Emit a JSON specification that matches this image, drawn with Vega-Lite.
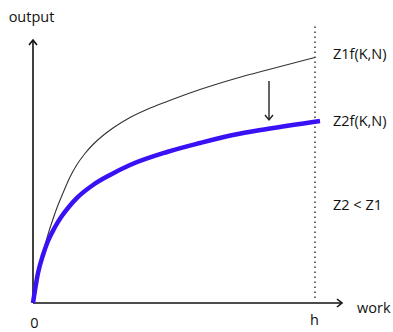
{
  "$schema": "https://vega.github.io/schema/vega-lite/v6.json",
  "width": 393,
  "height": 332,
  "autosize": {"type": "none"},
  "padding": 0,
  "background": "white",
  "view": {"stroke": null},
  "config": {"text": {"font": "Open Sans", "fontSize": 14.5, "color": "#111"}},
  "datasets": {
    "curves": [
      {"series": "Z1f(K,N)", "work": 0, "output": 0},
      {"series": "Z1f(K,N)", "work": 5, "output": 30},
      {"series": "Z1f(K,N)", "work": 10, "output": 50},
      {"series": "Z1f(K,N)", "work": 15, "output": 68.5},
      {"series": "Z1f(K,N)", "work": 20, "output": 84},
      {"series": "Z1f(K,N)", "work": 25, "output": 98},
      {"series": "Z1f(K,N)", "work": 30, "output": 110},
      {"series": "Z1f(K,N)", "work": 37, "output": 126},
      {"series": "Z1f(K,N)", "work": 44, "output": 138.5},
      {"series": "Z1f(K,N)", "work": 52, "output": 149.5},
      {"series": "Z1f(K,N)", "work": 60, "output": 158.5},
      {"series": "Z1f(K,N)", "work": 70, "output": 167.5},
      {"series": "Z1f(K,N)", "work": 80, "output": 175},
      {"series": "Z1f(K,N)", "work": 97, "output": 185.5},
      {"series": "Z1f(K,N)", "work": 115, "output": 194},
      {"series": "Z1f(K,N)", "work": 134, "output": 201.5},
      {"series": "Z1f(K,N)", "work": 150, "output": 207.5},
      {"series": "Z1f(K,N)", "work": 167, "output": 213.5},
      {"series": "Z1f(K,N)", "work": 185, "output": 219.3},
      {"series": "Z1f(K,N)", "work": 200, "output": 223.8},
      {"series": "Z1f(K,N)", "work": 220, "output": 229.3},
      {"series": "Z1f(K,N)", "work": 234, "output": 233},
      {"series": "Z1f(K,N)", "work": 255, "output": 238.5},
      {"series": "Z1f(K,N)", "work": 282, "output": 245.5},
      {"series": "Z2f(K,N)", "work": 0, "output": 0},
      {"series": "Z2f(K,N)", "work": 5, "output": 30},
      {"series": "Z2f(K,N)", "work": 10, "output": 48},
      {"series": "Z2f(K,N)", "work": 15, "output": 62},
      {"series": "Z2f(K,N)", "work": 22, "output": 76},
      {"series": "Z2f(K,N)", "work": 29, "output": 87.2},
      {"series": "Z2f(K,N)", "work": 36, "output": 96.3},
      {"series": "Z2f(K,N)", "work": 44, "output": 105.1},
      {"series": "Z2f(K,N)", "work": 60, "output": 118},
      {"series": "Z2f(K,N)", "work": 77, "output": 128},
      {"series": "Z2f(K,N)", "work": 97, "output": 138},
      {"series": "Z2f(K,N)", "work": 134, "output": 151},
      {"series": "Z2f(K,N)", "work": 167, "output": 160},
      {"series": "Z2f(K,N)", "work": 200, "output": 168},
      {"series": "Z2f(K,N)", "work": 234, "output": 174},
      {"series": "Z2f(K,N)", "work": 287, "output": 182}
    ],
    "axes": [
      {"axis": "work", "x": 0, "y": 0, "x2": 308, "y2": 0},
      {"axis": "output", "x": 0, "y": 0, "x2": 0, "y2": 262}
    ],
    "heads": [
      {"dir": "up", "x": 0, "y": 263},
      {"dir": "right", "x": 309, "y": 0},
      {"dir": "down", "x": 236, "y": 183}
    ],
    "shift": [{"x": 236, "y": 222, "y2": 184}],
    "limit": [{"x": 282, "y": 5, "y2": 280}],
    "labelsLeft": [
      {"text": "Z1f(K,N)", "x": 300, "y": 244},
      {"text": "Z2f(K,N)", "x": 300, "y": 177},
      {"text": "Z2 < Z1", "x": 300, "y": 93},
      {"text": "work", "x": 324, "y": -10}
    ],
    "labelsCenter": [
      {"text": "output", "x": -1.5, "y": 281.5},
      {"text": "0", "x": 1.5, "y": -25},
      {"text": "h", "x": 281.5, "y": -22}
    ]
  },
  "layer": [
    {
      "data": {"name": "limit"},
      "mark": {"type": "rule", "color": "#444", "strokeWidth": 1.6, "strokeDash": [1.5, 3.5]},
      "encoding": {
        "x": {"field": "x", "type": "quantitative", "scale": {"domain": [-33, 360], "nice": false, "zero": false}, "axis": null},
        "y": {"field": "y", "type": "quantitative", "scale": {"domain": [-29, 303], "nice": false, "zero": false}, "axis": null},
        "y2": {"field": "y2"}
      }
    },
    {
      "data": {"name": "axes"},
      "mark": {"type": "rule", "color": "#111", "strokeWidth": 1.6},
      "encoding": {
        "x": {"field": "x", "type": "quantitative", "scale": {"domain": [-33, 360], "nice": false, "zero": false}, "axis": null},
        "y": {"field": "y", "type": "quantitative", "scale": {"domain": [-29, 303], "nice": false, "zero": false}, "axis": null},
        "x2": {"field": "x2"},
        "y2": {"field": "y2"}
      }
    },
    {
      "data": {"name": "shift"},
      "mark": {"type": "rule", "color": "#222", "strokeWidth": 1.4},
      "encoding": {
        "x": {"field": "x", "type": "quantitative", "scale": {"domain": [-33, 360], "nice": false, "zero": false}, "axis": null},
        "y": {"field": "y", "type": "quantitative", "scale": {"domain": [-29, 303], "nice": false, "zero": false}, "axis": null},
        "y2": {"field": "y2"}
      }
    },
    {
      "data": {"name": "heads"},
      "transform": [{"filter": "datum.dir === 'up'"}],
      "mark": {"type": "point", "shape": "M -0.8 1 L 0 0 L 0.8 1", "filled": false, "stroke": "#111", "strokeWidth": 1.6, "size": 100, "opacity": 1},
      "encoding": {
        "x": {"field": "x", "type": "quantitative", "scale": {"domain": [-33, 360], "nice": false, "zero": false}, "axis": null},
        "y": {"field": "y", "type": "quantitative", "scale": {"domain": [-29, 303], "nice": false, "zero": false}, "axis": null}
      }
    },
    {
      "data": {"name": "heads"},
      "transform": [{"filter": "datum.dir === 'right'"}],
      "mark": {"type": "point", "shape": "M -0.8 1 L 0 0 L 0.8 1", "angle": 90, "filled": false, "stroke": "#111", "strokeWidth": 1.6, "size": 100, "opacity": 1},
      "encoding": {
        "x": {"field": "x", "type": "quantitative", "scale": {"domain": [-33, 360], "nice": false, "zero": false}, "axis": null},
        "y": {"field": "y", "type": "quantitative", "scale": {"domain": [-29, 303], "nice": false, "zero": false}, "axis": null}
      }
    },
    {
      "data": {"name": "heads"},
      "transform": [{"filter": "datum.dir === 'down'"}],
      "mark": {"type": "point", "shape": "M -0.8 1 L 0 0 L 0.8 1", "angle": 180, "filled": false, "stroke": "#222", "strokeWidth": 1.4, "size": 100, "opacity": 1},
      "encoding": {
        "x": {"field": "x", "type": "quantitative", "scale": {"domain": [-33, 360], "nice": false, "zero": false}, "axis": null},
        "y": {"field": "y", "type": "quantitative", "scale": {"domain": [-29, 303], "nice": false, "zero": false}, "axis": null}
      }
    },
    {
      "data": {"name": "curves"},
      "transform": [{"filter": "datum.series === 'Z1f(K,N)'"}],
      "mark": {"type": "line", "interpolate": "monotone", "color": "#333", "strokeWidth": 1.1},
      "encoding": {
        "x": {"field": "work", "type": "quantitative", "scale": {"domain": [-33, 360], "nice": false, "zero": false}, "axis": null},
        "y": {"field": "output", "type": "quantitative", "scale": {"domain": [-29, 303], "nice": false, "zero": false}, "axis": null}
      }
    },
    {
      "data": {"name": "curves"},
      "transform": [{"filter": "datum.series === 'Z2f(K,N)'"}],
      "mark": {"type": "line", "interpolate": "monotone", "color": "#3a10f5", "strokeWidth": 4.5},
      "encoding": {
        "x": {"field": "work", "type": "quantitative", "scale": {"domain": [-33, 360], "nice": false, "zero": false}, "axis": null},
        "y": {"field": "output", "type": "quantitative", "scale": {"domain": [-29, 303], "nice": false, "zero": false}, "axis": null}
      }
    },
    {
      "data": {"name": "labelsLeft"},
      "mark": {"type": "text", "align": "left", "baseline": "alphabetic"},
      "encoding": {
        "x": {"field": "x", "type": "quantitative", "scale": {"domain": [-33, 360], "nice": false, "zero": false}, "axis": null},
        "y": {"field": "y", "type": "quantitative", "scale": {"domain": [-29, 303], "nice": false, "zero": false}, "axis": null},
        "text": {"field": "text"}
      }
    },
    {
      "data": {"name": "labelsCenter"},
      "mark": {"type": "text", "align": "center", "baseline": "alphabetic"},
      "encoding": {
        "x": {"field": "x", "type": "quantitative", "scale": {"domain": [-33, 360], "nice": false, "zero": false}, "axis": null},
        "y": {"field": "y", "type": "quantitative", "scale": {"domain": [-29, 303], "nice": false, "zero": false}, "axis": null},
        "text": {"field": "text"}
      }
    }
  ]
}
